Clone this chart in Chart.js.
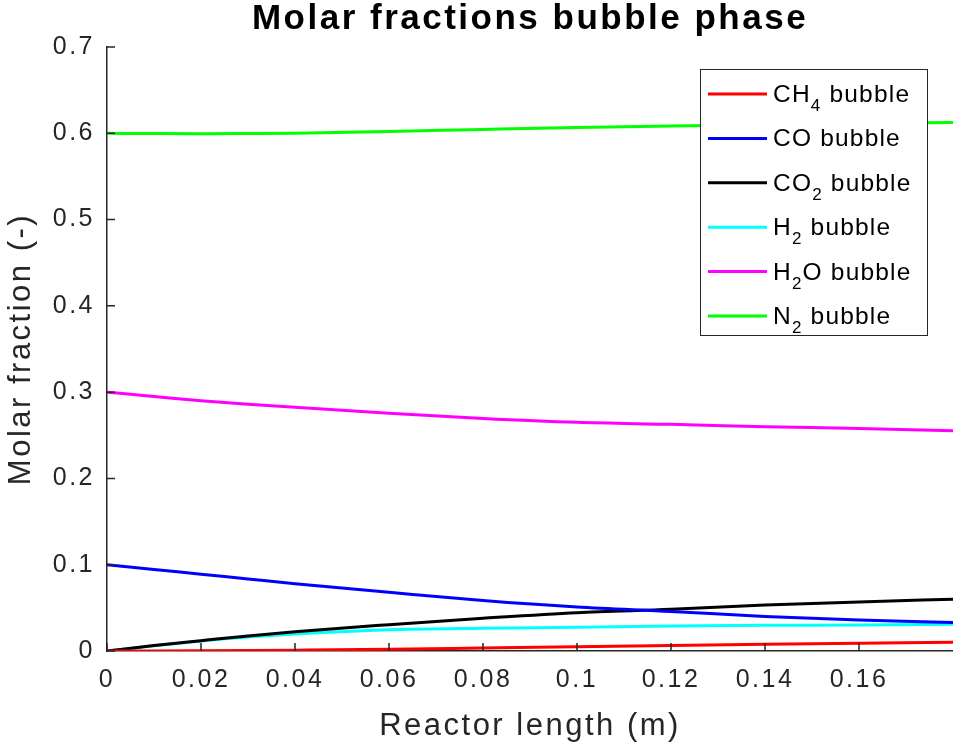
<!DOCTYPE html>
<html>
<head>
<meta charset="utf-8">
<script src="https://cdn.jsdelivr.net/npm/chart.js@4.4.1/dist/chart.umd.min.js"></script>
<style>
  html, body { margin: 0; padding: 0; background: #ffffff; }
  #wrap { width: 953px; height: 749px; position: relative; }
</style>
</head>
<body>
<div id="wrap"><canvas id="c"></canvas></div>
<script>
// ---- data ----
const reactorLength = [0, 0.01, 0.02, 0.03, 0.04, 0.06, 0.08, 0.10, 0.12, 0.14, 0.16, 0.18];
const ch4Bubble = [0, 0.0001, 0.0003, 0.0006, 0.001, 0.002, 0.0035, 0.005, 0.0064, 0.0077, 0.0089, 0.010];
const coBubble  = [0.100, 0.0945, 0.089, 0.0835, 0.078, 0.068, 0.0585, 0.051, 0.0458, 0.040, 0.036, 0.033];
const co2Bubble = [0, 0.0063, 0.012, 0.0175, 0.0224, 0.0305, 0.0379, 0.0444, 0.0483, 0.0533, 0.0568, 0.060];
const h2Bubble  = [0, 0.006, 0.0116, 0.0162, 0.0197, 0.0245, 0.0263, 0.0275, 0.029, 0.0298, 0.030, 0.031];
const h2oBubble = [0.300, 0.295, 0.290, 0.286, 0.2825, 0.2755, 0.2695, 0.265, 0.2627, 0.260, 0.258, 0.2553];
const n2Bubble  = [0.600, 0.5997, 0.5995, 0.5997, 0.600, 0.602, 0.6045, 0.6068, 0.6085, 0.610, 0.6113, 0.6124];

const seriesLabels = ['CH₄ bubble', 'CO bubble', 'CO₂ bubble', 'H₂ bubble', 'H₂O bubble', 'N₂ bubble'];
const seriesColors = ['#ff0000', '#0000ff', '#000000', '#00ffff', '#ff00ff', '#00ff00'];
const seriesValues = [ch4Bubble, coBubble, co2Bubble, h2Bubble, h2oBubble, n2Bubble];

const xTickValues = [0, 0.02, 0.04, 0.06, 0.08, 0.10, 0.12, 0.14, 0.16];
const yTickValues = [0, 0.1, 0.2, 0.3, 0.4, 0.5, 0.6, 0.7];

const chartTitle = 'Molar fractions bubble phase';
const xTitle = 'Reactor length (m)';
const yTitle = 'Molar fraction (-)';

// ---- build datasets ----
const datasets = seriesValues.map((vals, i) => ({
  label: seriesLabels[i],
  data: vals.map((v, k) => ({ x: reactorLength[k], y: v })),
  borderColor: seriesColors[i],
  backgroundColor: seriesColors[i],
  borderWidth: 3,
  pointRadius: 0,
  fill: false,
  cubicInterpolationMode: 'monotone'
}));

const AXIS = '#262626';
const fmt = v => String(parseFloat(Number(v).toFixed(2)));

const spacingPlugin = {
  id: 'spacing',
  beforeDraw(chart) { chart.ctx.letterSpacing = '2.5px'; }
};

const innerTicks = {
  id: 'innerTicks',
  afterDraw(chart) {
    const ctx = chart.ctx;
    const xs = chart.scales.x, ys = chart.scales.y;
    const a = chart.chartArea;
    ctx.save();
    ctx.strokeStyle = AXIS;
    ctx.lineWidth = 1.5;
    ctx.beginPath();
    xTickValues.forEach(v => {
      const px = xs.getPixelForValue(v);
      ctx.moveTo(px, a.bottom);
      ctx.lineTo(px, a.bottom - 8);
    });
    yTickValues.forEach(v => {
      const py = ys.getPixelForValue(v);
      ctx.moveTo(a.left, py);
      ctx.lineTo(a.left + 8, py);
    });
    ctx.stroke();
    ctx.restore();
  }
};

const boxLegend = {
  id: 'boxLegend',
  afterDraw(chart) {
    const ctx = chart.ctx;
    const left = 700, top = 69, w = 227, h = 266;
    ctx.save();
    ctx.letterSpacing = '1.2px';
    ctx.fillStyle = '#ffffff';
    ctx.fillRect(left, top, w, h);
    ctx.strokeStyle = AXIS;
    ctx.lineWidth = 1;
    ctx.strokeRect(left + 0.5, top + 0.5, w, h);
    const subMap = { '₀':'0','₁':'1','₂':'2','₃':'3','₄':'4','₅':'5','₆':'6','₇':'7','₈':'8','₉':'9' };
    const mainFont = '24.5px "Liberation Sans", Arial, sans-serif';
    const subFont = '17px "Liberation Sans", Arial, sans-serif';
    chart.data.datasets.forEach((ds, i) => {
      const cy = top + 25 + i * 44.4;
      ctx.strokeStyle = ds.borderColor;
      ctx.lineWidth = 3;
      ctx.beginPath();
      ctx.moveTo(708, cy);
      ctx.lineTo(767, cy);
      ctx.stroke();
      let x = 773;
      const base = cy + 8;
      ctx.fillStyle = '#000000';
      ctx.textBaseline = 'alphabetic';
      ctx.textAlign = 'left';
      for (const ch of ds.label) {
        if (subMap[ch]) {
          ctx.font = subFont;
          ctx.fillText(subMap[ch], x, base + 9);
          x += ctx.measureText(subMap[ch]).width;
        } else {
          ctx.font = mainFont;
          ctx.fillText(ch, x, base);
          x += ctx.measureText(ch).width;
        }
      }
    });
    ctx.restore();
  }
};

new Chart(document.getElementById('c'), {
  type: 'line',
  data: { datasets },
  plugins: [spacingPlugin, innerTicks, boxLegend],
  options: {
    responsive: true,
    maintainAspectRatio: false,
    animation: false,
    layout: { padding: 0 },
    plugins: {
      legend: { display: false },
      tooltip: { enabled: false },
      title: {
        display: true,
        text: chartTitle,
        fullSize: false,
        color: '#000000',
        font: { family: '"Liberation Sans", Arial, sans-serif', size: 35, weight: 'bold', lineHeight: 1.0 },
        padding: { top: 2, bottom: 10 }
      }
    },
    scales: {
      x: {
        type: 'linear',
        min: 0,
        max: 0.18,
        afterBuildTicks: s => { s.ticks = xTickValues.map(v => ({ value: v })); },
        afterFit: s => { s.height = 98; },
        ticks: {
          color: AXIS,
          padding: 14,
          maxRotation: 0,
          autoSkip: false,
          font: { family: '"Liberation Sans", Arial, sans-serif', size: 25 },
          callback: v => fmt(v)
        },
        grid: { display: true, drawOnChartArea: false, drawTicks: false },
        border: { display: true, color: AXIS, width: 1.5 },
        title: {
          display: true,
          text: xTitle,
          color: AXIS,
          font: { family: '"Liberation Sans", Arial, sans-serif', size: 31 },
          padding: { top: 0, bottom: 4 }
        }
      },
      y: {
        type: 'linear',
        min: 0,
        max: 0.7,
        afterBuildTicks: s => { s.ticks = yTickValues.map(v => ({ value: v })); },
        afterFit: s => { s.width = 107; },
        ticks: {
          color: AXIS,
          padding: 12,
          font: { family: '"Liberation Sans", Arial, sans-serif', size: 25 },
          callback: v => fmt(v)
        },
        grid: { display: true, drawOnChartArea: false, drawTicks: false },
        border: { display: true, color: AXIS, width: 1.5 },
        title: {
          display: true,
          text: yTitle,
          color: AXIS,
          font: { family: '"Liberation Sans", Arial, sans-serif', size: 31 },
          padding: { top: 3, bottom: 0 }
        }
      }
    }
  }
});
</script>
</body>
</html>
